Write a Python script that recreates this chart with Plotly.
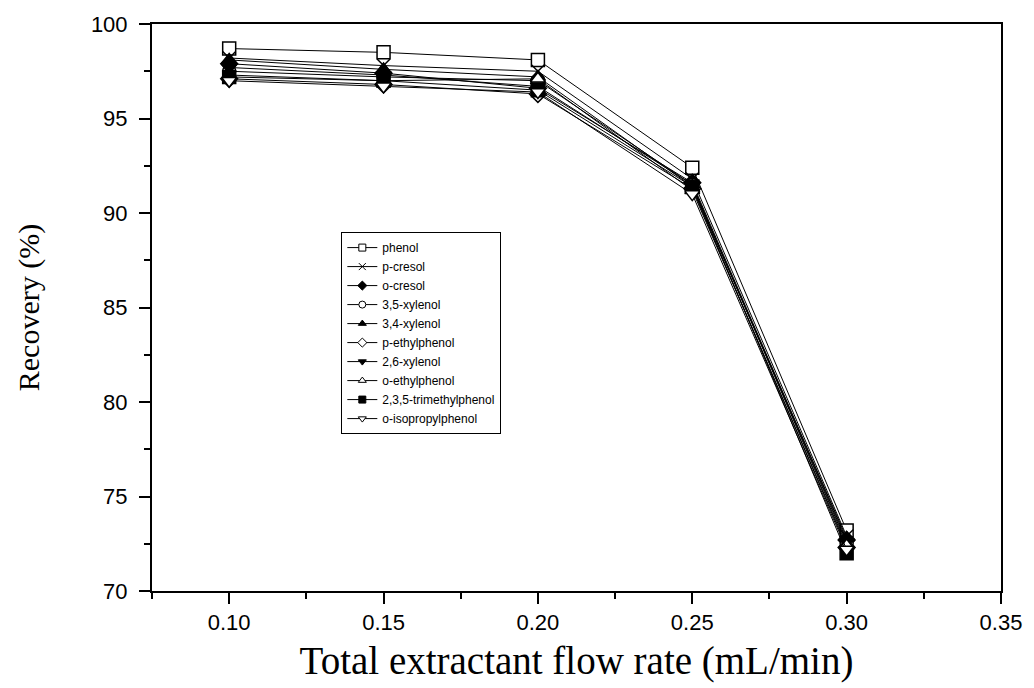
import plotly.graph_objects as go

flow_rate = [0.10, 0.15, 0.20, 0.25, 0.30]

phenol = [98.7, 98.5, 98.1, 92.4, 73.2]
p_cresol = [98.2, 97.8, 97.5, 91.8, 72.9]
o_cresol = [97.9, 97.4, 96.6, 91.6, 72.7]
xylenol_35 = [97.5, 97.2, 97.0, 91.5, 72.5]
xylenol_34 = [98.1, 97.6, 97.2, 91.4, 72.8]
p_ethylphenol = [97.1, 96.8, 96.3, 91.3, 72.3]
xylenol_26 = [97.7, 97.3, 96.7, 91.5, 72.6]
o_ethylphenol = [97.3, 97.0, 97.1, 91.2, 72.4]
trimethylphenol_235 = [97.2, 97.0, 96.5, 91.4, 72.0]
o_isopropylphenol = [97.0, 96.7, 96.4, 91.0, 72.2]

series_names = ["phenol", "p-cresol", "o-cresol", "3,5-xylenol", "3,4-xylenol",
                "p-ethylphenol", "2,6-xylenol", "o-ethylphenol",
                "2,3,5-trimethylphenol", "o-isopropylphenol"]
series_values = [phenol, p_cresol, o_cresol, xylenol_35, xylenol_34,
                 p_ethylphenol, xylenol_26, o_ethylphenol,
                 trimethylphenol_235, o_isopropylphenol]
# (symbol, filled?)
symbols = [("square", False), ("x-thin", True), ("diamond", True), ("circle", False),
           ("triangle-up", True), ("diamond", False), ("triangle-down", True),
           ("triangle-up", False), ("square", True), ("triangle-down", False)]


def marker_style(sym, filled, size, lw):
    return dict(symbol=sym, size=size, color="black" if filled else "white",
                line=dict(color="black", width=lw))


fig = go.Figure()
for name, vals, (sym, filled) in zip(series_names, series_values, symbols):
    fig.add_trace(go.Scatter(
        x=flow_rate, y=vals, mode="lines+markers", name=name, showlegend=False,
        line=dict(color="black", width=1),
        marker=marker_style(sym, filled, 13, 1.5),
    ))
# legend entries with smaller markers
for name, (sym, filled) in zip(series_names, symbols):
    fig.add_trace(go.Scatter(
        x=[None], y=[None], mode="lines+markers", name=name,
        line=dict(color="black", width=1),
        marker=marker_style(sym, filled, 7, 1),
    ))

axis_common = dict(showline=True, linecolor="black", linewidth=2, mirror=True,
                   ticks="outside", tickcolor="black", tickwidth=2, ticklen=11,
                   showgrid=False, zeroline=False,
                   tickfont=dict(family="Liberation Sans, Arial", size=22, color="black"))

fig.update_layout(
    width=1034, height=688,
    margin=dict(l=152, r=25, t=24, b=97),
    paper_bgcolor="white", plot_bgcolor="white",
    xaxis=dict(range=[0.075, 0.35], tickvals=[0.10, 0.15, 0.20, 0.25, 0.30, 0.35],
               ticktext=["0.10", "0.15", "0.20", "0.25", "0.30", "0.35"],
               minor=dict(tickvals=[0.075, 0.125, 0.175, 0.225, 0.275, 0.325],
                          ticks="outside", ticklen=6, tickwidth=2, tickcolor="black"),
               title=dict(text="Total extractant flow rate (mL/min)",
                          font=dict(family="Liberation Serif, Times New Roman", size=39, color="black"),
                          standoff=12),
               **axis_common),
    yaxis=dict(range=[70, 100], tickvals=[70, 75, 80, 85, 90, 95, 100],
               ticklabelstandoff=7,
               minor=dict(tickvals=[72.5, 77.5, 82.5, 87.5, 92.5, 97.5],
                          ticks="outside", ticklen=6, tickwidth=2, tickcolor="black"),
               title=dict(text="Recovery (%)",
                          font=dict(family="Liberation Serif, Times New Roman", size=30, color="black"),
                          standoff=42),
               **axis_common),
    legend=dict(x=0.223, y=0.633, xanchor="left", yanchor="top",
                bordercolor="black", borderwidth=1, bgcolor="white",
                font=dict(family="Liberation Sans, Arial", size=12, color="black"),
                tracegroupgap=0, itemwidth=30),
    showlegend=True,
)

fig.write_html("out.html")
